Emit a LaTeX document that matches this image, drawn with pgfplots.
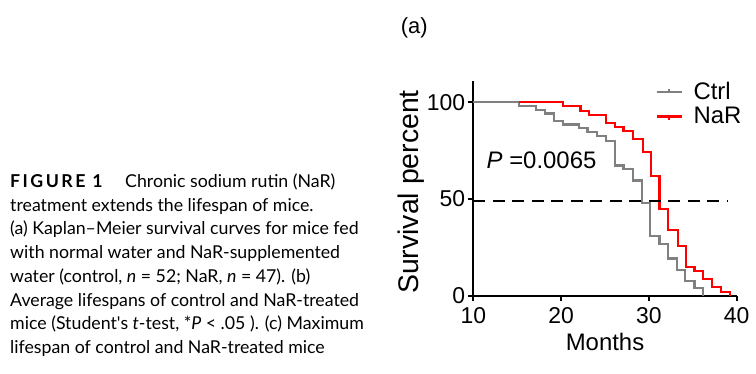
\documentclass[border=0pt]{standalone}
\usepackage{fontspec}
\setmainfont{Liberation Sans}
\newfontfamily\lato[Ligatures=TeX]{Lato}
\usepackage{pgfplots}
\pgfplotsset{compat=1.18}
\definecolor{ctrlgray}{RGB}{128,128,128}
\definecolor{narred}{RGB}{255,0,0}

\begin{document}
\begin{tikzpicture}[x=1bp,y=1bp]
\path[use as bounding box] (0,0) rectangle (756,-373);
% caption
\begin{scope}[every node/.style={anchor=base west, inner sep=0pt, font=\lato\fontsize{17.8}{20}\selectfont}]
\node at (10,-187) {{\bfseries\addfontfeature{LetterSpace=14}FIGURE 1}};
\node at (125,-187) {Chronic sodium rutin (NaR)};
\node at (10,-211) {treatment extends the lifespan of mice.};
\node at (10,-234.6) {(a) Kaplan–Meier survival curves for mice fed};
\node at (10,-258.4) {with normal water and NaR-supplemented};
\node at (10,-282.2) {water (control, \textit{n} = 52; NaR, \textit{n} = 47). (b)};
\node at (10,-306) {Average lifespans of control and NaR-treated};
\node at (10,-329.8) {mice (Student\textquotesingle s \textit{t}-test, *\textit{P} < .05 ). (c) Maximum};
\node at (10,-353.6) {lifespan of control and NaR-treated mice};
\end{scope}
\node[anchor=base west, inner sep=0pt, font=\fontsize{22}{22}\selectfont] at (400.7,-33) {(a)};

\begin{axis}[
  at={(473.3bp,-295.7bp)}, anchor=south west,
  scale only axis, width=263.4bp, height=214.7bp,
  xmin=10, xmax=40, ymin=0, ymax=111, enlargelimits=false,
  axis x line=bottom, axis y line=left,
  axis line style={-, line width=2.2bp, black},
  xtick={10,20,30,40}, ytick={0,50,100},
  tick align=outside, major tick length=5bp,
  tick style={line width=2.2bp, black},
  tick label style={font=\fontsize{23}{23}\selectfont, inner sep=3bp},
  xticklabel style={yshift=-4bp},
  /pgf/number format/assume math mode=true,
  xlabel={Months}, ylabel={Survival percent},
  xlabel style={font=\fontsize{24}{24}\selectfont, at={([yshift=-54.3bp]axis description cs:0.5,0)}, anchor=base},
  ylabel style={font=\fontsize{28.5}{28.5}\selectfont, at={([xshift=-55.3bp]axis description cs:0,0.483)}, anchor=base},
  clip=false,
]
\addplot[ctrlgray, line width=2.2bp, const plot] coordinates {
(10,100) (15.2,98.1) (17.1,96.2) (18.2,94.2) (19.2,90.4) (20.2,88.5)
(22.0,86.5) (23.0,84.6) (24.1,82.7) (25.1,80.0) (26.1,67.3) (27.1,65.4)
(28.2,59.6) (29.2,48.1) (30.1,30.8) (31.2,26.9) (32.2,19.2) (33.2,13.5)
(34.1,7.7) (35.2,3.8) (36.2,0)};
\addplot[narred, line width=2.2bp, const plot] coordinates {
(15.2,100) (20.2,97.9) (22.2,95.7) (23.2,93.6) (25.1,89.4) (26.1,87.2)
(27.1,85.1) (28.2,80.9) (29.3,74.5) (30.2,61.7) (31.2,44.7) (32.2,34.0)
(33.3,25.5) (34.2,14.9) (35.2,12.8) (36.2,8.5) (37.2,4.3) (38.2,2.1) (39.2,0)};
\addplot[black, line width=2.2bp, dash pattern=on 12bp off 7.5bp] coordinates {(10,49) (39,49)};
% legend
\draw[ctrlgray, line width=2.2bp] (axis cs:30.89,105.2) -- (axis cs:33.74,105.2);
\draw[ctrlgray, line width=1.5bp] (axis cs:32.3,105.2) -- (axis cs:32.3,107.0);
\draw[narred, line width=2.2bp] (axis cs:30.89,92.6) -- (axis cs:33.74,92.6);
\draw[narred, line width=1.5bp] (axis cs:32.3,92.6) -- (axis cs:32.3,90.8);
\node[anchor=base west, inner sep=0pt, font=\fontsize{24}{24}\selectfont] at (axis cs:35.06,101.5) {Ctrl};
\node[anchor=base west, inner sep=0pt, font=\fontsize{24}{24}\selectfont] at (axis cs:35.06,89.1) {NaR};
\node[anchor=base west, inner sep=0pt, font=\fontsize{24}{24}\selectfont] at (axis cs:11.5,65.9) {\textit{P} =0.0065};
\end{axis}
\end{tikzpicture}
\end{document}
